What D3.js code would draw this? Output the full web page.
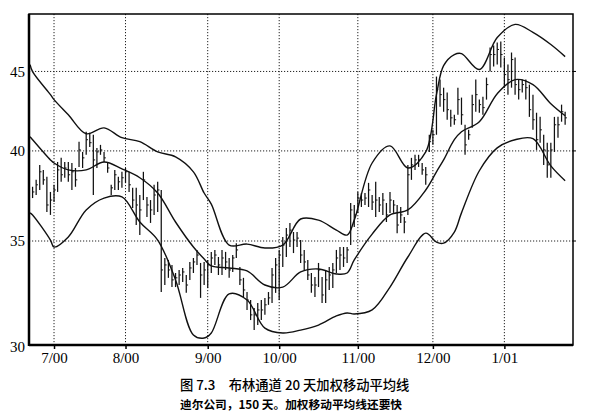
<!DOCTYPE html>
<html><head><meta charset="utf-8">
<script src="https://cdn.jsdelivr.net/npm/d3@7/dist/d3.min.js"></script>
<style>body{margin:0;background:#fff}svg{display:block}</style>
</head><body><svg id="c" width="590" height="415"></svg>
<script>
// --- data (Dell, 150 trading days, log price scale) ---
const monthLabels = ["7/00","8/00","9/00","10/00","11/00","12/00","1/01"];
const monthStartIdx = [6,26,49,69,91,112,132];
const yTicks = [30,35,40,45];
const highs = [37.93,38.32,39.18,38.89,38.50,37.64,38.04,39.35,39.59,39.35,39.35,39.29,39.0,40.55,39.94,41.15,41.09,40.97,40.18,40.36,
39.94,39.35,38.04,38.89,38.50,38.78,39.0,38.78,37.87,37.87,37.47,38.78,37.36,37.19,38.04,38.21,37.75,34.13,34.03,33.78,
33.38,33.53,33.63,33.28,33.93,34.13,34.54,33.88,33.93,34.03,34.44,34.54,34.18,34.54,34.44,34.13,34.28,34.89,33.68,33.14,
32.45,32.07,31.69,31.93,32.07,32.17,32.45,33.63,34.13,34.54,35.21,35.68,35.95,35.47,35.47,35.05,34.54,34.03,33.38,33.18,
33.88,33.18,33.53,33.68,33.88,34.54,34.69,34.69,34.69,37.03,36.92,37.64,37.58,37.58,38.15,37.47,38.21,37.36,37.58,37.03,
37.64,37.19,36.92,36.81,36.27,39.18,39.59,39.77,39.77,39.29,39.06,40.97,41.27,44.66,44.46,43.93,43.61,42.52,42.20,43.93,
43.29,41.58,41.27,43.48,44.46,43.16,43.35,44.59,46.63,46.76,46.97,47.04,45.94,45.46,46.28,45.94,44.46,44.46,44.46,44.13,
43.48,42.33,42.07,40.97,40.49,40.49,42.07,42.07,42.84,42.39];
const lows = [37.30,37.47,37.75,38.04,36.54,36.38,37.08,37.64,38.21,38.44,38.21,37.75,37.93,39.06,39.0,39.77,40.24,37.47,39.0,39.77,
39.35,38.72,37.47,37.75,37.75,37.87,38.15,37.64,36.76,35.84,35.31,37.19,36.27,35.95,36.38,36.54,32.45,32.79,33.14,32.69,
32.69,32.79,32.94,32.41,33.04,33.38,33.78,32.17,32.79,32.65,33.38,33.78,33.28,33.28,33.53,33.14,33.43,34.13,32.79,32.21,
31.60,31.13,30.67,30.90,31.13,31.37,31.84,31.93,32.41,32.07,33.68,34.18,34.69,34.38,34.69,33.88,33.53,33.04,32.41,32.21,
32.69,31.93,31.93,32.55,32.65,33.38,33.53,33.68,33.88,34.79,35.73,36.49,36.81,36.92,36.81,36.65,36.27,36.54,36.38,36.0,
36.49,36.49,35.41,35.95,35.41,36.38,38.32,38.89,39.06,38.61,38.04,39.94,40.36,40.97,42.71,42.39,41.89,41.46,41.58,42.20,
41.58,39.77,40.67,41.39,42.39,42.33,42.20,43.16,45.0,45.33,45.46,45.26,43.93,43.48,43.93,43.48,43.16,43.61,43.16,42.07,
41.27,40.06,40.49,39.18,38.44,38.44,39.94,40.79,41.77,41.58];
const closes = [37.64,38.04,38.78,38.32,36.92,37.19,37.75,38.89,38.61,39.0,38.61,38.78,38.32,40.06,39.59,40.67,40.49,39.47,39.94,40.06,
39.59,39.0,37.87,38.61,38.21,38.44,38.78,38.04,37.19,36.92,36.65,38.32,36.92,36.65,37.47,37.75,33.53,33.78,33.53,33.04,
33.14,33.28,33.43,32.79,33.63,33.93,34.28,33.28,33.53,33.78,34.13,34.28,33.78,34.13,33.93,33.53,34.13,34.54,33.04,32.55,
32.07,31.37,31.37,31.60,31.60,31.84,32.17,33.28,33.78,34.28,34.79,35.31,35.57,35.05,35.15,34.28,33.93,33.28,32.79,32.79,
33.53,32.31,33.04,33.28,33.53,34.13,34.28,34.13,34.54,36.65,36.38,37.30,37.19,37.30,37.75,37.08,37.19,36.92,37.19,36.38,
37.19,36.92,35.84,36.38,36.0,38.61,39.18,39.47,39.47,38.89,38.61,40.55,40.97,43.80,43.48,43.16,42.52,42.01,41.89,43.16,
42.20,40.36,40.97,42.84,43.48,42.84,42.65,44.13,46.14,46.14,46.49,46.14,44.79,44.46,45.80,44.13,43.80,44.13,43.93,42.52,
41.89,40.67,41.27,40.06,39.18,40.06,41.58,41.58,42.39,42.01];
// Bollinger band samples (20-day weighted MA and bands)
const bandIdx = [-0.7,0,5,6,10,15,20,25,30,35,40,45,48,50,55,60,65,70,75,80,85,88,90,95,100,105,110,113,115,118,120,125,130,135,140,145,149];
const upperBand = [45.46,44.99,43.48,43.16,42.20,41.03,41.39,40.79,40.55,39.94,39.65,38.78,37.58,36.97,34.79,34.84,34.64,34.79,36.16,36.10,35.57,35.31,36.10,39.29,40.30,39.0,39.94,43.48,45.39,46.14,46.21,45.13,47.32,48.25,47.68,46.83,46.0];
const midBand = [40.85,40.67,39.47,39.29,38.89,38.89,39.35,38.95,38.44,37.58,36.0,34.69,34.08,33.73,33.63,33.48,32.79,32.69,33.43,33.58,33.33,33.38,34.03,35.36,36.38,36.65,37.75,38.78,39.47,40.67,41.15,41.77,43.54,44.46,44.13,42.90,42.14];
const lowerBand = [36.49,36.38,35.05,34.69,35.21,36.65,37.30,37.36,36.0,35.05,33.04,30.45,30.31,30.54,32.36,32.07,30.76,30.54,30.67,30.90,31.32,31.46,31.41,31.60,32.69,34.18,35.41,34.94,34.89,35.47,36.49,38.84,40.18,40.67,40.73,39.12,38.27];
const caption1 = "图 7.3\u3000布林通道 20 天加权移动平均线";
const caption2 = "迪尔公司，150 天。加权移动平均线还要快";

// --- drawing ---
const svg = d3.select("#c");
const L=29, R=573, T=14, B=345;
const x = d3.scaleLinear().domain([-1, 151.2]).range([L, R]);
const y = d3.scaleLog().domain([30, 49]).range([B, T]);

const g = svg.append("g");
// grid
g.selectAll("line.hg").data(yTicks.filter(v=>v>30)).join("line")
  .attr("x1",L).attr("x2",R).attr("y1",d=>y(d)).attr("y2",d=>y(d))
  .attr("stroke","#222").attr("stroke-width",1).attr("stroke-dasharray","1.2,1.8");
g.selectAll("line.vg").data(monthStartIdx).join("line")
  .attr("x1",d=>x(d)).attr("x2",d=>x(d)).attr("y1",T).attr("y2",B)
  .attr("stroke","#222").attr("stroke-width",1).attr("stroke-dasharray","1.2,1.8");

// axes via d3
const xAxis = d3.axisBottom(x).tickValues(monthStartIdx).tickFormat((d,i)=>monthLabels[i]).tickSize(4).tickPadding(3);
const ax = svg.append("g").attr("transform",`translate(0,${B})`).call(xAxis);
ax.select(".domain").remove();
ax.selectAll("line").attr("stroke","#000").attr("stroke-width",1.5);
ax.selectAll("text").attr("font-family","Liberation Serif, serif").attr("font-size",15).attr("fill","#000");

const yAxis = d3.axisLeft(y).tickValues(yTicks).tickFormat(d3.format("d")).tickSize(0).tickPadding(4);
const ay = svg.append("g").attr("transform",`translate(${L},0)`).call(yAxis);
ay.select(".domain").remove();
ay.selectAll("text").attr("font-family","Liberation Serif, serif").attr("font-size",15).attr("fill","#000");
ay.selectAll(".tick").filter(d=>d===30).select("text").attr("dy","0.45em");

// right-side short ticks
g.selectAll("line.rt").data(yTicks.filter(v=>v>30)).join("line")
  .attr("x1",R).attr("x2",R+3).attr("y1",d=>y(d)).attr("y2",d=>y(d)).attr("stroke","#000").attr("stroke-width",1);

// bars
const bars = svg.append("g").attr("stroke","#111").attr("stroke-width",1.25);
bars.selectAll("line.hl").data(highs).join("line")
  .attr("x1",(d,i)=>x(i)).attr("x2",(d,i)=>x(i))
  .attr("y1",d=>y(d)).attr("y2",(d,i)=>y(lows[i]));
bars.selectAll("line.cl").data(closes).join("line")
  .attr("x1",(d,i)=>x(i)).attr("x2",(d,i)=>x(i)+1.8)
  .attr("y1",d=>y(d)).attr("y2",d=>y(d)).attr("stroke-width",1);

// bands
const line = d3.line().x(d=>x(d[0])).y(d=>y(d[1])).curve(d3.curveCatmullRom.alpha(0.5));
[upperBand, midBand, lowerBand].forEach(arr=>{
  svg.append("path").datum(bandIdx.map((k,j)=>[k,arr[j]]))
    .attr("d",line).attr("fill","none").attr("stroke","#111").attr("stroke-width",1.4);
});

// frame
svg.append("rect").attr("x",L).attr("y",T).attr("width",R-L).attr("height",B-T)
  .attr("fill","none").attr("stroke","#000").attr("stroke-width",1.5);
svg.append("line").attr("x1",L).attr("x2",L).attr("y1",T).attr("y2",B+1).attr("stroke","#000").attr("stroke-width",2.5);
svg.append("line").attr("x1",L).attr("x2",R).attr("y1",B).attr("y2",B).attr("stroke","#000").attr("stroke-width",2.5);

// caption
svg.append("text").attr("x",180).attr("y",390).text(caption1)
  .attr("font-family","Noto Sans CJK SC").attr("font-size",13.3).attr("font-weight",500).attr("fill","#000");
svg.append("text").attr("x",180).attr("y",409).text(caption2)
  .attr("font-family","Noto Sans CJK SC").attr("font-size",11.7).attr("font-weight",700).attr("fill","#000");
</script></body></html>
